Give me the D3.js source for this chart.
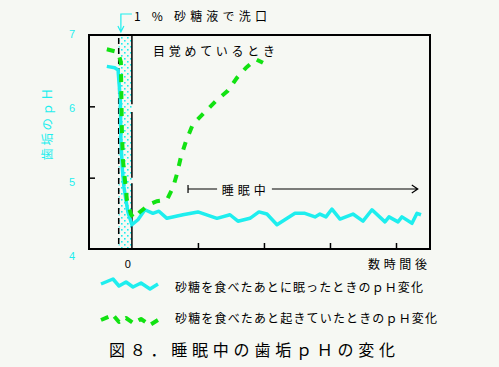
<!DOCTYPE html>
<html><head><meta charset="utf-8">
<script src="https://cdn.jsdelivr.net/npm/d3@7"></script>
<style>
html,body{margin:0;padding:0;background:#f6f8f3;}
svg{display:block;}
text{font-family:"Noto Sans CJK JP","Noto Sans",sans-serif;}
</style></head>
<body>
<script>
// ---- data ----
const yTicks = [4, 5, 6, 7];
const xTicks = [1, 2, 3, 4];
const xZeroLabel = "0";
// sleeping after sugar (hours, pH)
const sleepT  = [-0.38,-0.26,-0.21,-0.175,-0.167,-0.144,-0.121,-0.091,-0.061,0,0.091,0.197,0.318,0.409,0.53,0.773,1.0,1.288,1.485,1.606,1.788,1.924,2.045,2.197,2.47,2.62,2.773,2.848,2.939,3.03,3.152,3.348,3.5,3.636,3.833,3.894,4.03,4.09,4.242,4.318,4.379];
const sleepPH = [6.56,6.54,6.51,6.09,5.53,5.11,4.87,4.69,4.52,4.34,4.41,4.55,4.50,4.53,4.43,4.48,4.52,4.43,4.48,4.39,4.43,4.52,4.49,4.34,4.50,4.50,4.45,4.49,4.45,4.56,4.42,4.49,4.39,4.55,4.38,4.45,4.38,4.45,4.36,4.50,4.48];
// awake after sugar (hours, pH)
const awakeT  = [-0.38,-0.21,-0.167,-0.152,-0.136,-0.106,-0.076,-0.015,0.03,0.121,0.273,0.379,0.53,0.621,0.682,0.742,0.818,0.924,1.106,1.288,1.455,1.591,1.727,1.879,1.985];
const awakePH = [6.80,6.76,6.62,5.67,5.25,4.97,4.69,4.49,4.43,4.52,4.63,4.67,4.69,4.86,5.05,5.29,5.51,5.75,5.92,6.09,6.22,6.40,6.54,6.66,6.61];
const rinse = [-0.2, 0];
const seriesNames = ["砂糖を食べたあとに眠ったときのｐＨ変化","砂糖を食べたあと起きていたときのｐＨ変化"];
const colors = ["#1eeeee", "#12e212"];
// legend sample zigzag (relative dx, dy)
const legendZig = [[0,3],[12,-2],[18,5],[25,1],[32,6],[40,2],[49,8],[57,3]];

const W = 499, H = 367;
const svg = d3.select("body").append("svg").attr("width", W).attr("height", H);
svg.append("rect").attr("width", W).attr("height", H).attr("fill", "#f6f8f3");

const x = d3.scaleLinear().domain([-0.65, 4.515]).range([89, 430]);
const y = d3.scaleLinear().domain([4, 7]).range([249, 35]);
const yLab = d3.scaleLinear().domain([4, 7]).range([256, 34]);

// dotted pattern
const defs = svg.append("defs");
const pat = defs.append("pattern").attr("id","dots").attr("patternUnits","userSpaceOnUse")
  .attr("width",6).attr("height",6);
pat.append("rect").attr("x",1).attr("y",1).attr("width",1.6).attr("height",1.6).attr("fill","#1eeeee");
pat.append("rect").attr("x",4).attr("y",4).attr("width",1.6).attr("height",1.6).attr("fill","#1eeeee");

// rinse band
svg.append("rect").attr("x", x(rinse[0])).attr("y", y(7))
  .attr("width", x(rinse[1]) - x(rinse[0])).attr("height", y(4) - y(7))
  .attr("fill", "url(#dots)");

// frame
svg.append("rect").attr("x", x(-0.65)).attr("y", y(7))
  .attr("width", x(4.515) - x(-0.65)).attr("height", y(4) - y(7))
  .attr("fill", "none").attr("stroke", "#000").attr("stroke-width", 2);

// axes ticks
const gx = svg.append("g").attr("transform", `translate(0,${y(4)})`)
  .call(d3.axisBottom(x).tickValues(xTicks).tickSize(-6).tickSizeOuter(0).tickFormat(""));
gx.select(".domain").remove();
gx.selectAll(".tick line").attr("stroke","#000").attr("stroke-width",1.5);
const gy = svg.append("g").attr("transform", `translate(${x(-0.65)},0)`)
  .call(d3.axisLeft(y).tickValues([5,6]).tickSize(-6).tickSizeOuter(0).tickFormat(""));
gy.select(".domain").remove();
gy.selectAll(".tick line").attr("stroke","#000").attr("stroke-width",1.5).attr("x1",-1);

// y tick labels (cyan)
svg.selectAll(".ylab").data(yTicks).enter().append("text")
  .attr("x", 72).attr("y", d => yLab(d)).attr("dy", "0.36em")
  .attr("text-anchor","middle").attr("fill","#1eeeee")
  .style("font-family","'Liberation Sans',Arial,sans-serif").style("font-size","11px")
  .text(d => d);

// x zero label
svg.append("text").attr("x", x(0) - 4).attr("y", 268).attr("text-anchor","middle")
  .style("font-family","'Liberation Sans',Arial,sans-serif").style("font-size","11px").text(xZeroLabel);

// rinse start dashed line
svg.append("line").attr("x1", x(rinse[0])).attr("x2", x(rinse[0])).attr("y1", y(7)+3).attr("y2", y(4))
  .attr("stroke","#000").attr("stroke-width",1.5).attr("stroke-dasharray","6,4");
// rinse end solid line (with small gaps at ticks)
[[7,6.03],[5.92,5.0],[4.92,4]].forEach(s => {
  svg.append("line").attr("x1", x(rinse[1])).attr("x2", x(rinse[1]))
    .attr("y1", y(s[0])).attr("y2", y(s[1])).attr("stroke","#000").attr("stroke-width",1.5);
});

// series
const line = d3.line().x(d => x(d[0])).y(d => y(d[1]));
const sleep = sleepT.map((t,i) => [t, sleepPH[i]]);
const awake = awakeT.map((t,i) => [t, awakePH[i]]);
svg.append("path").datum(sleep).attr("d", line).attr("fill","none")
  .attr("stroke", colors[0]).attr("stroke-width", 3.5).attr("stroke-linejoin","round");
svg.append("path").datum(awake).attr("d", line).attr("fill","none")
  .attr("stroke", colors[1]).attr("stroke-width", 4).attr("stroke-dasharray","8,9");

// annotation: 1% sugar rinse
const ax = x(-0.167);
svg.append("path").attr("d", `M${x(rinse[1])},14 H${ax} V32 M${ax-3},26 L${ax},32 L${ax+3},26`)
  .attr("fill","none").attr("stroke","#1eeeee").attr("stroke-width",1.2);
svg.append("text").attr("x", 134).attr("y", 21).attr("textLength", 133).attr("lengthAdjust","spacing")
  .style("font-size","12px").attr("fill","#000").text("1 % 砂糖液で洗口");

// awake annotation
svg.append("text").attr("x", 153).attr("y", 56).attr("textLength", 122).attr("lengthAdjust","spacing")
  .style("font-size","12px").attr("fill","#000").text("目覚めているとき");

// sleeping annotation
const ys = 189;
svg.append("path").attr("d", `M${x(0.85)},${ys-4} V${ys+4} M${x(0.85)},${ys} H${x(1.29)}`)
  .attr("fill","none").attr("stroke","#000").attr("stroke-width",1.2);
svg.append("text").attr("x", x(1.36)).attr("y", ys+6).attr("textLength", 44).attr("lengthAdjust","spacing")
  .style("font-size","12px").text("睡眠中");
svg.append("path").attr("d", `M${x(2.12)},${ys} H${x(4.33)} M${x(4.33)-6},${ys-4} L${x(4.33)},${ys} L${x(4.33)-6},${ys+4}`)
  .attr("fill","none").attr("stroke","#000").attr("stroke-width",1.2);

// x axis title
svg.append("text").attr("x", 368).attr("y", 269).attr("textLength", 59).attr("lengthAdjust","spacing")
  .style("font-size","12px").text("数時間後");

// y axis title
svg.append("text").attr("transform","translate(52,123) rotate(-90)").attr("text-anchor","middle")
  .attr("fill","#1eeeee").style("font-size","12.5px").attr("letter-spacing","2.5px").text("歯垢のｐＨ");

// legend
const leg = svg.append("g");
const zl = d3.line().x(d => d[0]).y(d => d[1]);
[0,1].forEach(i => {
  const ox = 101, oy = i === 0 ? 281 : 317;
  leg.append("path").datum(legendZig.map(p => [ox + p[0], oy + p[1]])).attr("d", zl)
    .attr("fill","none").attr("stroke", colors[i]).attr("stroke-width", i === 0 ? 3.5 : 4)
    .attr("stroke-linejoin","round").attr("stroke-dasharray", i === 0 ? null : "8,7");
  leg.append("text").attr("x", 175).attr("y", i === 0 ? 292 : 323)
    .attr("textLength", i === 0 ? 248 : 262).attr("lengthAdjust","spacing")
    .style("font-size","12px").text(seriesNames[i]);
});

// caption
svg.append("text").attr("x", 109).attr("y", 356).attr("textLength", 286).attr("lengthAdjust","spacing")
  .style("font-size","16px").text("図８．睡眠中の歯垢ｐＨの変化");
</script>
</body></html>
